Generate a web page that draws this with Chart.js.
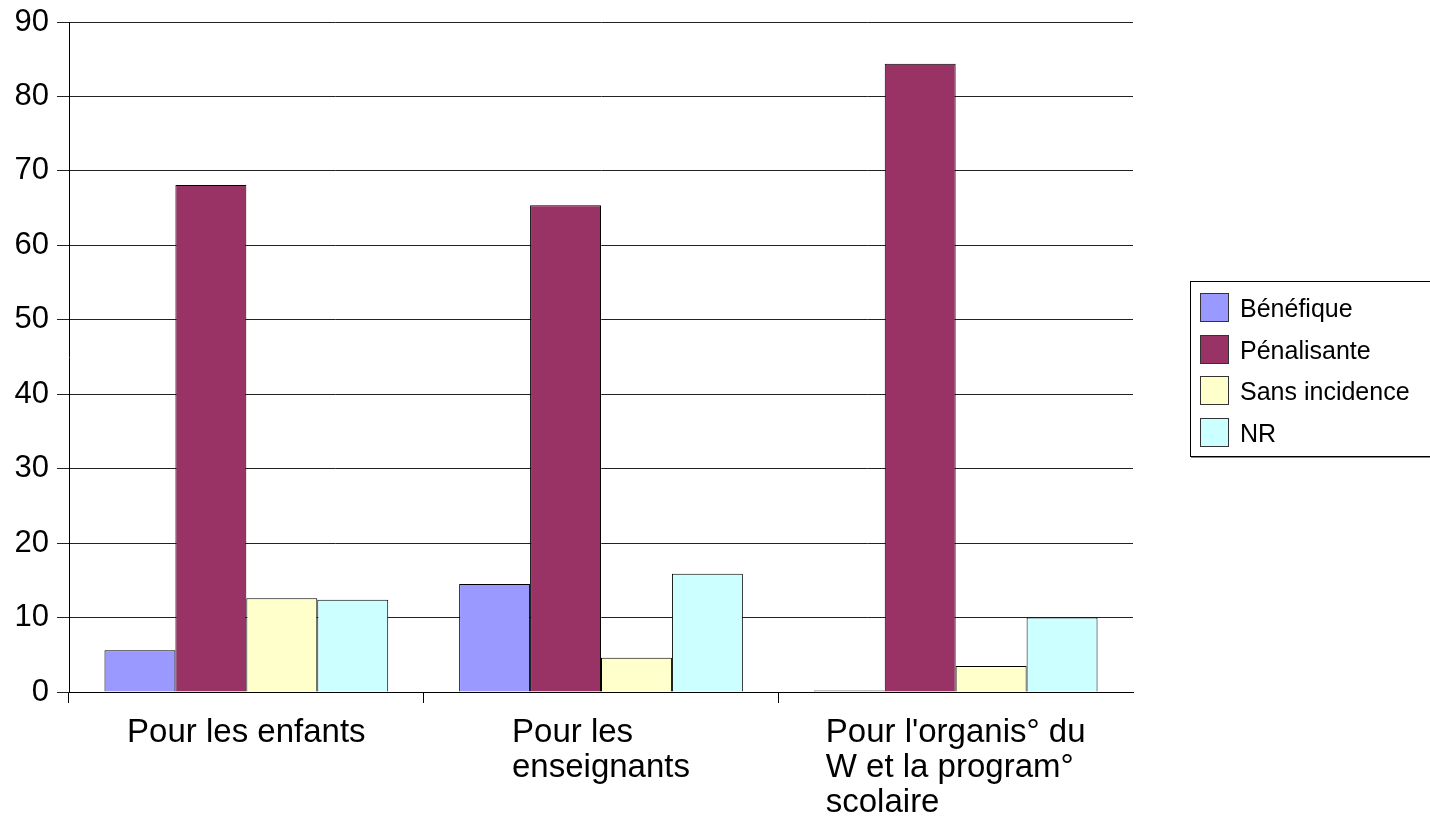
<!DOCTYPE html>
<html>
<head>
<meta charset="utf-8">
<script src="https://cdn.jsdelivr.net/npm/chart.js@4/dist/chart.umd.min.js"></script>
<style>
html,body{margin:0;padding:0;background:#fff;}
canvas{display:block;}
</style>
</head>
<body>
<canvas id="c" width="1430" height="821"></canvas>
<script>
const categories = [
  ["Pour les enfants"],
  ["Pour les", "enseignants"],
  ["Pour l'organis° du", "W et la program°", "scolaire"]
];
const seriesNames = ["Bénéfique", "Pénalisante", "Sans incidence", "NR"];
const benefique = [5.6, 14.5, 0.2];
const penalisante = [68.1, 65.4, 84.4];
const sansIncidence = [12.6, 4.6, 3.5];
const nr = [12.4, 15.9, 10.0];
const yTicks = [0, 10, 20, 30, 40, 50, 60, 70, 80, 90];

const colors = ["#9999ff", "#993366", "#ffffcc", "#ccffff"];
const seriesValues = [benefique, penalisante, sansIncidence, nr];
const FONT = '"Liberation Sans", Arial, sans-serif';

const legendPlugin = {
  id: 'boxLegend',
  afterDraw(chart) {
    const ctx = chart.ctx;
    ctx.save();
    ctx.fillStyle = '#888';
    ctx.fillRect(1191, 456, 250, 2);
    ctx.strokeStyle = '#000';
    ctx.lineWidth = 1;
    ctx.strokeRect(1190.5, 281.5, 260, 175);
    ctx.font = '25px ' + FONT;
    ctx.textBaseline = 'alphabetic';
    ctx.textAlign = 'left';
    chart.data.datasets.forEach((ds, i) => {
      const top = Math.round(293 + i * 41.5);
      ctx.fillStyle = ds.backgroundColor;
      ctx.fillRect(1200, top, 28, 28);
      ctx.strokeStyle = '#333';
      ctx.strokeRect(1200.5, top + 0.5, 28, 28);
      ctx.fillStyle = '#000';
      ctx.fillText(ds.label, 1240, top + 24);
    });
    ctx.restore();
  }
};

const xLabelPlugin = {
  id: 'xLabels',
  afterDraw(chart) {
    const ctx = chart.ctx;
    const xs = chart.scales.x;
    ctx.save();
    ctx.font = '33px ' + FONT;
    ctx.fillStyle = '#000';
    ctx.textAlign = 'left';
    ctx.textBaseline = 'alphabetic';
    chart.data.labels.forEach((lbl, i) => {
      const cx = xs.getPixelForValue(i);
      let w = 0;
      lbl.forEach(l => { w = Math.max(w, ctx.measureText(l).width); });
      lbl.forEach((l, j) => {
        ctx.fillText(l, cx - w / 2, xs.top + 50 + j * 35);
      });
    });
    ctx.restore();
  }
};

new Chart(document.getElementById('c'), {
  type: 'bar',
  data: {
    labels: categories,
    datasets: seriesNames.map((n, i) => ({
      label: n,
      data: seriesValues[i],
      backgroundColor: colors[i],
      borderColor: '#000',
      borderWidth: 1,
      categoryPercentage: 0.8,
      barPercentage: 1.0
    }))
  },
  options: {
    responsive: false,
    animation: false,
    layout: { padding: { top: 22, right: 297, left: 0, bottom: 0 } },
    plugins: { legend: { display: false }, tooltip: { enabled: false } },
    scales: {
      x: {
        afterFit(s) { s.height = 129; s.paddingLeft = 0; s.paddingRight = 0; },
        grid: {
          offset: true,
          drawOnChartArea: false,
          drawTicks: true,
          tickLength: 11,
          color: c => (c.index === undefined ? 'rgba(0,0,0,0)' : '#000')
        },
        border: { display: true, color: '#000', width: 1 },
        ticks: { display: false }
      },
      y: {
        min: 0,
        max: 90,
        afterFit(s) { s.width = 69; s.paddingTop = 0; s.paddingBottom = 0; },
        afterBuildTicks(s) { s.ticks = yTicks.map(v => ({ value: v })); },
        grid: { color: '#222', lineWidth: 1, tickLength: 12, drawTicks: true },
        border: { display: true, color: '#000', width: 1 },
        ticks: {
          color: '#000',
          font: { family: FONT, size: 31 },
          padding: 8
        }
      }
    }
  },
  plugins: [legendPlugin, xLabelPlugin]
});
</script>
</body>
</html>
